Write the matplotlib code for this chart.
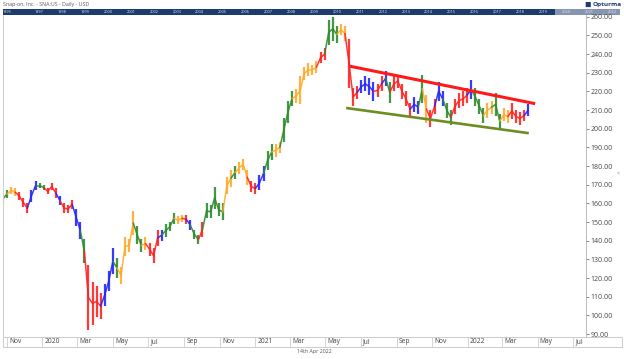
import matplotlib
matplotlib.use("Agg")
import matplotlib.pyplot as plt
import matplotlib.dates as mdates
from matplotlib.patches import Rectangle, FancyBboxPatch
import matplotlib.transforms as mtransforms
import pandas as pd
import datetime as dt

plt.rcParams['font.family'] = ['Open Sans', 'DejaVu Sans']

# ---------------- data (weekly ranges) ----------------
week_start = "2019-10-25"
lows = [160, 163, 165, 164, 162, 158, 155, 161, 167, 168,
        167, 165, 167, 163, 159, 155, 155, 157, 148, 141,
        128, 92, 95, 99, 98, 105, 113, 122, 120, 117,
        132, 134, 143, 138, 134, 135, 132, 128, 137, 140,
        142, 145, 149, 149, 150, 149, 146, 141, 138, 142,
        152, 152, 157, 153, 151, 165, 169, 173, 176, 178,
        170, 166, 165, 167, 172, 178, 183, 185, 187, 193,
        203, 212, 214, 213, 226, 228, 229, 230, 235, 237,
        245, 247, 246, 250, 247, 222, 212, 216, 219, 220,
        218, 215, 217, 220, 223, 214, 220, 222, 216, 212,
        207, 209, 208, 214, 203, 201, 208, 215, 212, 206,
        202, 208, 211, 212, 214, 216, 212, 208, 203, 206,
        208, 207, 200, 204, 203, 205, 203, 202, 204, 207]
highs = [165, 167, 169, 168, 166, 163, 160, 167, 172, 171,
         170, 168, 171, 168, 164, 160, 159, 162, 157, 150,
         141, 127, 118, 116, 112, 117, 124, 136, 131, 126,
         142, 141, 156, 148, 141, 142, 139, 136, 146, 146,
         149, 150, 155, 153, 154, 154, 151, 146, 143, 150,
         160, 159, 169, 160, 160, 174, 178, 180, 182, 184,
         178, 172, 171, 175, 180, 188, 192, 192, 193, 206,
         215, 220, 221, 228, 233, 235, 234, 236, 241, 243,
         258, 260, 255, 256, 255, 248, 222, 223, 226, 228,
         227, 225, 224, 228, 231, 225, 228, 229, 224, 220,
         214, 217, 215, 229, 218, 210, 216, 225, 220, 214,
         210, 216, 219, 220, 222, 226, 222, 216, 211, 214,
         215, 219, 208, 211, 210, 214, 210, 209, 210, 213]
cycle = list("OGOORRRBBGGRRRBRRRBBGRRRRBBBGOOOOGGORRRBGGGOORBGGRGGGGGOOGOOORRBBGGOOGGGOOOOOORRGGGOORRRBBBBRRBGRRRRRBBGORRBBGGRRRRBGGGOOGGOORRRRB")

red_line_dates = ["2021-06-12", "2022-04-27"]
red_line_vals = [233.5, 213.4]
green_line_dates = ["2021-06-06", "2022-04-16"]
green_line_vals = [211.1, 197.6]

yticks = list(range(90, 261, 10))
years_bar = [1995] + list(range(1997, 2023))

colmap = {'R': '#ff2222', 'B': '#2424ff', 'G': '#2e8b2e', 'O': '#ffaa2a'}

# ---------------- figure / layout ----------------
W, H = 624, 359
fig = plt.figure(figsize=(W / 100, H / 100), dpi=100)

bg = fig.add_axes([0, 0, 1, 1], zorder=0)
bg.set_xlim(0, W)
bg.set_ylim(H, 0)
bg.axis('off')

px_per_day = 0.5817
x_left_px, x_right_px = 3, 586
y_top_px, y_bot_px = 15, 336.7
strip_bot = 346.5

origin = mdates.date2num(dt.datetime(2019, 11, 1))
xl = origin - (7 - x_left_px) / px_per_day
xr = xl + (x_right_px - x_left_px) / px_per_day

ax = fig.add_axes([x_left_px / W, 1 - y_bot_px / H,
                   (x_right_px - x_left_px) / W, (y_bot_px - y_top_px) / H], zorder=2)
ax.patch.set_alpha(0)

dates = pd.date_range(week_start, periods=len(lows), freq="7D")
mids = [(h + l) / 2 for h, l in zip(highs, lows)]
cols = [colmap[c] for c in cycle]

# bars: high-low ranges
ax.vlines(dates, lows, highs, colors=cols, lw=1.6, alpha=0.9)
# connecting path, coloured by the cycle of each week
for i in range(len(dates) - 1):
    ax.plot(dates[i:i + 2], mids[i:i + 2], color=cols[i + 1], lw=1.1, alpha=0.9,
            solid_capstyle='round')

ax.plot(pd.to_datetime(red_line_dates), red_line_vals, color='#ff1a1a', lw=2.2,
        solid_capstyle='butt', zorder=5)
ax.plot(pd.to_datetime(green_line_dates), green_line_vals, color='#6b8e23', lw=1.9,
        solid_capstyle='butt', zorder=5)

ax.set_xlim(xl, xr)
ax.set_ylim(88.6, 260.9)
ax.set_xticks([])
ax.yaxis.tick_right()
ax.set_yticks(yticks)
ax.set_yticklabels([f"{v:.2f}" for v in yticks])
ax.tick_params(axis='y', length=2.2, width=0.6, color='#777777', pad=1.2,
               labelsize=5, labelcolor='#444444')
ax.spines['top'].set_visible(False)
ax.spines['left'].set_color('#cccccc')
ax.spines['right'].set_color('#bbbbbb')
ax.spines['bottom'].set_color('#cccccc')
for s in ['left', 'right', 'bottom']:
    ax.spines[s].set_linewidth(0.7)

# ---------------- date strip ----------------
strip_right_px = 622
sx = fig.add_axes([x_left_px / W, 1 - strip_bot / H,
                   (strip_right_px - x_left_px) / W, (strip_bot - y_bot_px) / H], zorder=1)
sx.set_xlim(xl, xl + (strip_right_px - x_left_px) / px_per_day)
sx.set_ylim(0, 1)
sx.set_xticks([])
sx.set_yticks([])
for s in sx.spines.values():
    s.set_color('#cccccc')
    s.set_linewidth(0.7)
loc = mdates.MonthLocator(bymonth=(1, 3, 5, 7, 9, 11))
ticks = [t for t in loc.tick_values(mdates.num2date(xl), mdates.num2date(xr)) if xl < t < xr]
toff = mtransforms.offset_copy(sx.transData, fig=fig, x=2.2, y=0, units='dots')
for t in ticks:
    d = mdates.num2date(t)
    lab = str(d.year) if d.month == 1 else d.strftime('%b')
    sx.axvline(t, color='#d4d4d4', lw=0.7)
    sx.text(t, 0.5, lab, transform=toff, ha='left', va='center', fontsize=4.8, color='#444444')

# ---------------- decorations ----------------
bg.text(3, 4.2, "Snap-on, Inc. - SNA:US - Daily - USD", fontsize=3.8, color='#555555',
        ha='left', va='center')
bg.add_patch(Rectangle((3, 9.3), 617, 5.7, color='#1d3c6e', lw=0))
bg.add_patch(Rectangle((555, 9.3), 65, 5.7, color='#8796b0', lw=0))
for yr in years_bar:
    xp = 3 if yr == 1995 else 35 + (yr - 1997) * 22.9
    bg.text(xp, 12.2, str(yr), fontsize=2.8, color='#dfe6f0', ha='left', va='center')
bg.add_patch(FancyBboxPatch((586, 2.3), 4.5, 4.5, boxstyle="round,pad=0.3", color='#1d3c6e', lw=0))
bg.text(592.5, 4.8, "Opturma", fontsize=4.6, color='#1d3c6e', ha='left', va='center',
        fontweight='bold')
bg.text(297, 351.5, "14th Apr 2022", fontsize=3.8, color='#555555', ha='left', va='center')
bg.text(618, 173, "<", fontsize=4, color='#777777', ha='center', va='center')

fig.savefig("out.png", dpi=100)
